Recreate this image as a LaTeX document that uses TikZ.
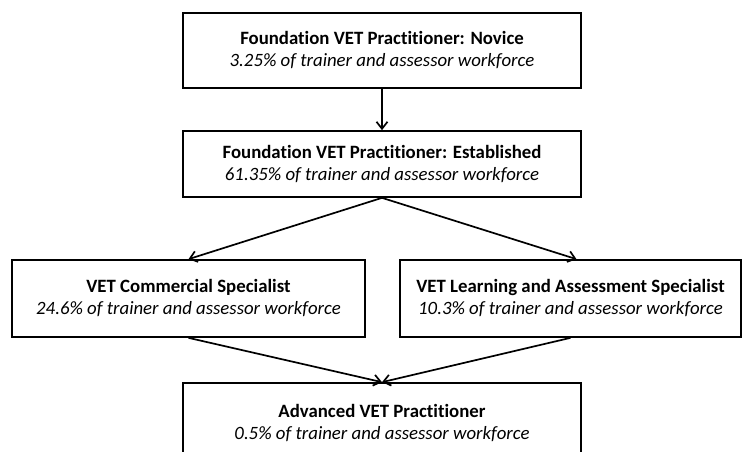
\documentclass[tikz,border=0pt]{standalone}
\usepackage{fontspec}
\setmainfont{Carlito}[Ligatures=NoCommon]
\usetikzlibrary{arrows.meta}
\begin{document}
\begin{tikzpicture}[x=1pt,y=-1pt,
  stage/.style={draw=black, line width=1.7pt, fill=white, align=center,
    inner sep=0pt, font=\fontsize{18.8}{22}\selectfont},
  flow/.style={line width=1.7pt, -{Straight Barb[length=7pt,width=11pt]}}]
\useasboundingbox (0,0) rectangle (742,452);
% career stages
\node[stage, minimum width=398, minimum height=75] (novice) at (382,50.5)
  {\textbf{Foundation VET Practitioner: Novice}\\\textit{3.25\% of trainer and assessor workforce}};
\node[stage, minimum width=398, minimum height=66] (established) at (382,164)
  {\textbf{Foundation VET Practitioner: Established}\\\textit{61.35\% of trainer and assessor workforce}};
\node[stage, minimum width=353, minimum height=77] (commercial) at (188.5,298.5)
  {\textbf{VET Commercial Specialist}\\\textit{24.6\% of trainer and assessor workforce}};
\node[stage, minimum width=341, minimum height=77] (learning) at (570.5,298.5)
  {\textbf{VET Learning and Assessment Specialist}\\\textit{10.3\% of trainer and assessor workforce}};
\node[stage, minimum width=398, minimum height=80] (advanced) at (382,423)
  {\textbf{Advanced VET Practitioner}\\\textit{0.5\% of trainer and assessor workforce}};
% progression arrows
\draw[flow] (novice.south) -- (established.north);
\draw[flow] (established.south) -- (commercial.north);
\draw[flow] (established.south) -- ([xshift=6]learning.north);
\draw[flow] (commercial.south) -- (advanced.north);
\draw[flow] (learning.south) -- (advanced.north);
\end{tikzpicture}
\end{document}
